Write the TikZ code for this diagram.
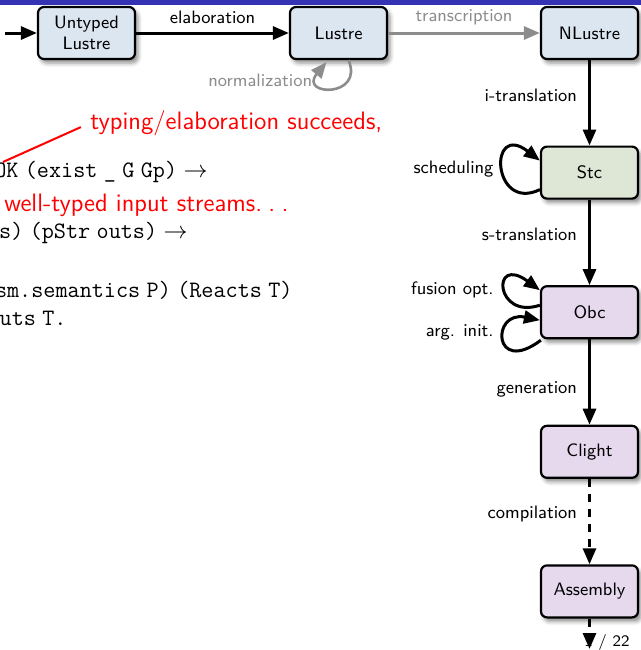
\documentclass[tikz,border=0pt]{standalone}
\usepackage{fontspec}
\usetikzlibrary{arrows.meta,calc,shadows.blur}

\definecolor{barblue}{RGB}{51,51,179}
\definecolor{srcfill}{RGB}{220,230,241}
\definecolor{stcfill}{RGB}{222,230,214}
\definecolor{obcfill}{RGB}{230,217,238}
\definecolor{passgray}{RGB}{140,140,140}
\definecolor{notered}{RGB}{255,0,0}

% narrow inter-word space used in the code excerpt
\newcommand\tsp{\hspace{3.2pt}}
% spaced ellipsis
\newcommand\sdots{.\kern0.25em.\kern0.25em.}

\begin{document}
\begin{tikzpicture}[x=0.5pt,y=-0.5pt,
  lang/.style={draw=black, line width=1.1pt, rounded corners=3pt,
    minimum width=48.5pt, minimum height=26pt, inner sep=0pt, align=center,
    font=\sffamily\fontsize{9}{10.5}\selectfont,
    blur shadow={shadow xshift=1.5pt, shadow yshift=-2pt,
      shadow blur radius=2pt, shadow opacity=45}},
  lbl/.style={font=\sffamily\fontsize{9}{10.5}\selectfont, inner sep=0pt},
  pass/.style={line width=1.5pt, -{Triangle[length=8pt,width=6.5pt]}},
  loopy/.style={line width=1.5pt, -{Triangle[length=8pt,width=6.5pt]}},
  code/.style={font=\ttfamily\fontsize{11.75}{14}\selectfont, inner sep=0pt},
  note/.style={font=\sffamily\fontsize{12.6}{15}\selectfont, text=notered, inner sep=0pt},
]
\useasboundingbox (0,0) rectangle (641,650);
\clip (0,0) rectangle (641,650);

% title bar
\fill[barblue] (0,0) rectangle (641,5);

% languages of the compilation chain
\node[lang, fill=srcfill] (untyped) at (86.5,33)    {Untyped\\Lustre};
\node[lang, fill=srcfill] (lustre)  at (338.5,33)   {Lustre};
\node[lang, fill=srcfill] (nlustre) at (589.5,33)   {NLustre};
\node[lang, fill=stcfill] (stc)     at (589.5,172.6){Stc};
\node[lang, fill=obcfill] (obc)     at (589.5,312.2){Obc};
\node[lang, fill=obcfill] (clight)  at (589.5,451.8){Clight};
\node[lang, fill=obcfill] (asm)     at (589.5,591.4){Assembly};

% page number of the slide
\node[font=\sffamily\fontsize{8}{9}\selectfont, inner sep=0pt, anchor=east] (pagenum) at (630,642) {1 / 22};

% passes
\coordinate (source) at (5,33);
\coordinate (exit) at (589.5,649);
\draw[pass] (source) -- (untyped);
\draw[pass] (untyped) -- node[lbl, yshift=8pt] {elaboration} (lustre);
\draw[pass, passgray] (lustre) -- node[lbl, text=passgray, yshift=8pt] {transcription} (nlustre);
\draw[pass] (nlustre) -- node[lbl, pos=0.41, anchor=east, xshift=-5.5pt] {i-translation} (stc);
\draw[pass] (stc) -- node[lbl, pos=0.41, anchor=east, xshift=-5.5pt] {s-translation} (obc);
\draw[pass] (obc) -- node[lbl, pos=0.59, anchor=east, xshift=-5.5pt] {generation} (clight);
\draw[pass, dash pattern=on 4pt off 3.5pt] (clight) -- node[lbl, pos=0.41, anchor=east, xshift=-5.5pt] {compilation} (asm);
\draw[pass, dash pattern=on 4pt off 3.5pt] (asm) -- (exit);

% optimisation loops
\draw[loopy, passgray, line width=1.3pt] ($(lustre.south)+(10,0)$) .. controls ($(lustre.south)+(26,38)$) and ($(lustre.south)+(-40,36)$) .. ($(lustre.south)+(-12,2)$);
\node[lbl, text=passgray, anchor=east] (normlbl) at ($(lustre.south)+(-26,20)$) {normalization};

\draw[loopy] ($(stc.west)+(0,17)$) .. controls ($(stc.west)+(-48,40)$) and ($(stc.west)+(-52,-52)$) .. ($(stc.west)+(0,-12)$);
\node[lbl, anchor=east] (schedlbl) at ($(stc.west)+(-46,-3)$) {scheduling};

\draw[loopy] ($(obc.west)+(0,-7)$) .. controls ($(obc.west)+(-45,8)$) and ($(obc.west)+(-49,-58)$) .. ($(obc.west)+(0,-22)$);
\node[lbl, anchor=east] (fuselbl) at ($(obc.west)+(-46,-22)$) {fusion opt.};

\draw[loopy] ($(obc.west)+(1,28)$) .. controls ($(obc.west)+(-47,64)$) and ($(obc.west)+(-49,-2)$) .. ($(obc.west)+(0,8)$);
\node[lbl, anchor=east] (arglbl) at ($(obc.west)+(-46,20)$) {arg. init.};

% correctness statement with its annotations
\node[note, anchor=west] (typing) at (90,123) {typing/elaboration succeeds,};
\coordinate (callout) at (3,162);
\draw[notered, line width=1pt, shorten >=5pt] (callout) -- (typing.west);

\node[code, anchor=east] (line1) at (208,172) {OK\tsp(exist\tsp\_\tsp G\tsp Gp)\tsp$\rightarrow$};
\node[note, anchor=west] (welltyped) at (4,205) {well-typed input streams\sdots};
\node[code, anchor=east] (line3) at (188,233) {s)\tsp(pStr\tsp outs)\tsp$\rightarrow$};
\node[code, anchor=east] (line4) at (293,290) {sm.semantics\tsp P)\tsp(Reacts\tsp T)};
\node[code, anchor=east] (line5) at (67,318) {outs\tsp T.};
\end{tikzpicture}
\end{document}
